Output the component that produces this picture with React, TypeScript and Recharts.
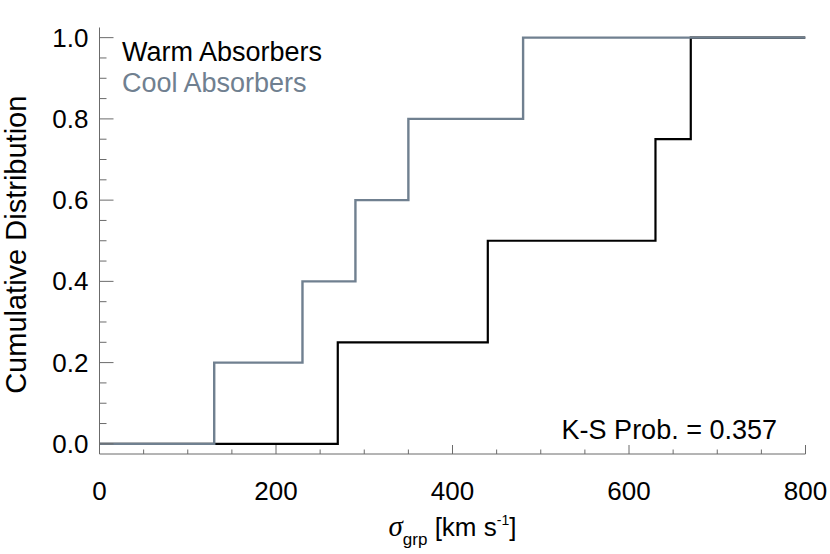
import { Line, LineChart, XAxis, YAxis, Label } from "recharts";

const coolX = [0, 130, 230, 290, 350, 480, 800];
const coolY = [0, 0.2, 0.4, 0.6, 0.8, 1.0, 1.0];
const warmX = [0, 270, 440, 630, 670, 800];
const warmY = [0, 0.25, 0.5, 0.75, 1.0, 1.0];

const xTicks = [0, 50, 100, 150, 200, 250, 300, 350, 400, 450, 500, 550, 600, 650, 700, 750, 800];
const yTicks = [0, 0.05, 0.1, 0.15, 0.2, 0.25, 0.3, 0.35, 0.4, 0.45, 0.5, 0.55, 0.6, 0.65, 0.7, 0.75, 0.8, 0.85, 0.9, 0.95, 1.0];
const xMajor = [0, 200, 400, 600, 800];
const yMajor = [0, 0.2, 0.4, 0.6, 0.8, 1.0];

const coolData = coolX.map((x, i) => ({ x, y: coolY[i] }));
const warmData = warmX.map((x, i) => ({ x, y: warmY[i] }));

const FONT = "'Liberation Sans', Arial, Helvetica, sans-serif";
const FS = 26;
const FRAME = "#6b6b6b";
const COOL = "#708090";

const isMajor = (list: number[], v: number) => list.some((m) => Math.abs(m - v) < 1e-6);

function BottomTick(props: any) {
  const { x, y, payload } = props;
  const major = isMajor(xMajor, payload.value);
  return (
    <g>
      <line x1={x} x2={x} y1={y} y2={y - (major ? 9 : 4.5)} stroke={FRAME} />
      {major && (
        <text x={x} y={y + 46} textAnchor="middle" fontFamily={FONT} fontSize={FS} fill="#000">
          {payload.value}
        </text>
      )}
    </g>
  );
}

function TopTick(props: any) {
  const { x, y, payload } = props;
  const major = isMajor(xMajor, payload.value);
  return <line x1={x} x2={x} y1={y} y2={y + (major ? 9 : 4.5)} stroke={FRAME} />;
}

function LeftTick(props: any) {
  const { x, y, payload } = props;
  const major = isMajor(yMajor, payload.value);
  return (
    <g>
      <line x1={x} x2={x + (major ? 14 : 7)} y1={y} y2={y} stroke={FRAME} />
      {major && (
        <text x={x - 11} y={y + 9} textAnchor="end" fontFamily={FONT} fontSize={FS} fill="#000">
          {payload.value.toFixed(1)}
        </text>
      )}
    </g>
  );
}

function RightTick(props: any) {
  const { x, y, payload } = props;
  const major = isMajor(yMajor, payload.value);
  return <line x1={x} x2={x - (major ? 14 : 7)} y1={y} y2={y} stroke={FRAME} />;
}

function XTitle(props: any) {
  const { viewBox } = props;
  const cx = viewBox.x + viewBox.width / 2;
  return (
    <text x={cx} y={536} textAnchor="middle" fontFamily={FONT} fontSize={FS} fill="#000">
      <tspan fontFamily="'Liberation Serif', 'DejaVu Serif', serif" fontStyle="italic" fontSize={29}>σ</tspan>
      <tspan fontSize={17} dy={9}>grp</tspan>
      <tspan dy={-9}> [km s</tspan>
      <tspan fontSize={14} dy={-11}>-1</tspan>
      <tspan dy={11}>]</tspan>
    </text>
  );
}

function YTitle(props: any) {
  const { viewBox } = props;
  const cy = viewBox.y + viewBox.height / 2 + 4;
  return (
    <text
      x={26}
      y={cy}
      transform={`rotate(-90, 26, ${cy})`}
      textAnchor="middle"
      fontFamily={FONT}
      fontSize={29}
      fill="#000"
    >
      Cumulative Distribution
    </text>
  );
}

export default function App() {
  return (
    <div style={{ position: "absolute", left: 0, top: 0, width: 830, height: 554, background: "#fff" }}>
      <LineChart width={830} height={554} margin={{ top: 27.5, right: 24.5, bottom: 0, left: 0 }}>
        <XAxis
          xAxisId="b"
          type="number"
          dataKey="x"
          domain={[0, 800]}
          ticks={xTicks}
          interval={0}
          height={100}
          tickSize={0}
          tickMargin={0}
          tickLine={false}
          axisLine={{ stroke: FRAME }}
          tick={<BottomTick />}
          allowDataOverflow
        >
          <Label content={<XTitle />} />
        </XAxis>
        <XAxis
          xAxisId="t"
          orientation="top"
          type="number"
          dataKey="x"
          domain={[0, 800]}
          ticks={xTicks}
          interval={0}
          height={0}
          tickSize={0}
          tickMargin={0}
          tickLine={false}
          axisLine={{ stroke: FRAME }}
          tick={<TopTick />}
        />
        <YAxis
          yAxisId="l"
          type="number"
          domain={[-0.025, 1.025]}
          ticks={yTicks}
          interval={0}
          width={99.5}
          tickSize={0}
          tickMargin={0}
          tickLine={false}
          axisLine={{ stroke: FRAME }}
          tick={<LeftTick />}
          allowDataOverflow
        >
          <Label content={<YTitle />} />
        </YAxis>
        <YAxis
          yAxisId="r"
          orientation="right"
          type="number"
          domain={[-0.025, 1.025]}
          ticks={yTicks}
          interval={0}
          width={0}
          tickSize={0}
          tickMargin={0}
          tickLine={false}
          axisLine={{ stroke: FRAME }}
          tick={<RightTick />}
        />
        <Line
          xAxisId="b"
          yAxisId="l"
          data={warmData}
          dataKey="y"
          type="stepAfter"
          stroke="#000"
          strokeWidth={2.2}
          dot={false}
          isAnimationActive={false}
        />
        <Line
          xAxisId="b"
          yAxisId="l"
          data={coolData}
          dataKey="y"
          type="stepAfter"
          stroke={COOL}
          strokeWidth={2.4}
          dot={false}
          isAnimationActive={false}
        />
      </LineChart>
      <div style={{ position: "absolute", left: 122, top: 37, fontFamily: FONT, fontSize: 27, lineHeight: "31px" }}>
        <div style={{ color: "#000" }}>Warm Absorbers</div>
        <div style={{ color: COOL }}>Cool Absorbers</div>
      </div>
      <div style={{ position: "absolute", right: 830 - 777, top: 414.5, fontFamily: FONT, fontSize: 27, lineHeight: "31px", color: "#000" }}>
        K-S Prob. = 0.357
      </div>
    </div>
  );
}
